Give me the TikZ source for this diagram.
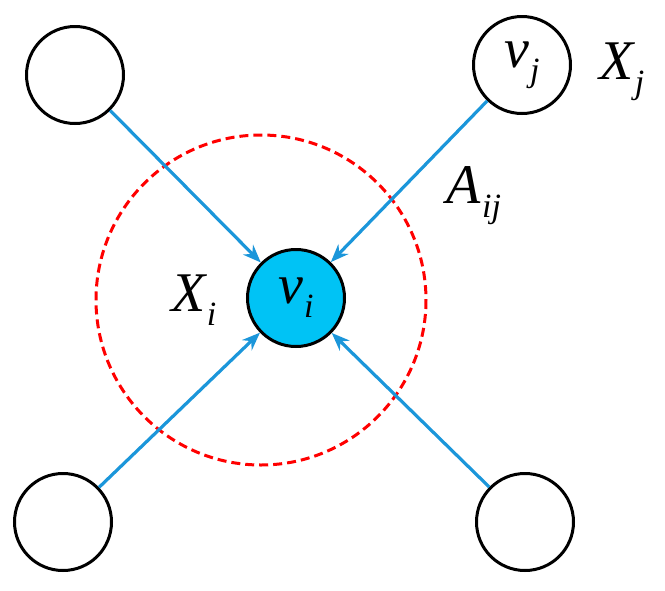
\documentclass[tikz,border=0pt]{standalone}
\usepackage{fontspec}
\setmainfont{Liberation Serif}
\usetikzlibrary{arrows.meta}
\definecolor{ec}{RGB}{27,150,218}
\definecolor{fc}{RGB}{0,195,245}
\newcommand{\bigsym}[2]{{\fontsize{56}{56}\selectfont\itshape #1\kern1pt\raisebox{-14pt}{\fontsize{34}{34}\selectfont #2}}}
\begin{document}
\begin{tikzpicture}[x=1pt,y=-1pt,
 nd/.style={circle,draw,line width=3pt,minimum size=97pt,inner sep=0pt},
 ed/.style={ec,line width=3.2pt,-{Stealth[length=18pt,width=14pt]}}]
\useasboundingbox (0,0) rectangle (665,590);
\draw[red,line width=3pt,dash pattern=on 9pt off 5pt] (261,300) circle (165);
\node[nd] (a) at (75,75) {};
\node[nd] (b) at (522,65) {\bigsym{v}{j}};
\node[nd,fill=fc] (c) at (296,298) {\bigsym{v}{i}};
\node[nd] (d) at (63,522) {};
\node[nd] (e) at (525,522) {};
\node (xj) at (622,72) {\bigsym{X}{j}};
\node (aij) at (474,196) {\bigsym{A}{ij}};
\node (xi) at (194,300) {\bigsym{X}{i}};
\draw[ed] (a) -- (c);
\draw[ed] (b) -- (c);
\draw[ed] (d) -- (c);
\draw[ed] (e) -- (c);
\end{tikzpicture}
\end{document}
